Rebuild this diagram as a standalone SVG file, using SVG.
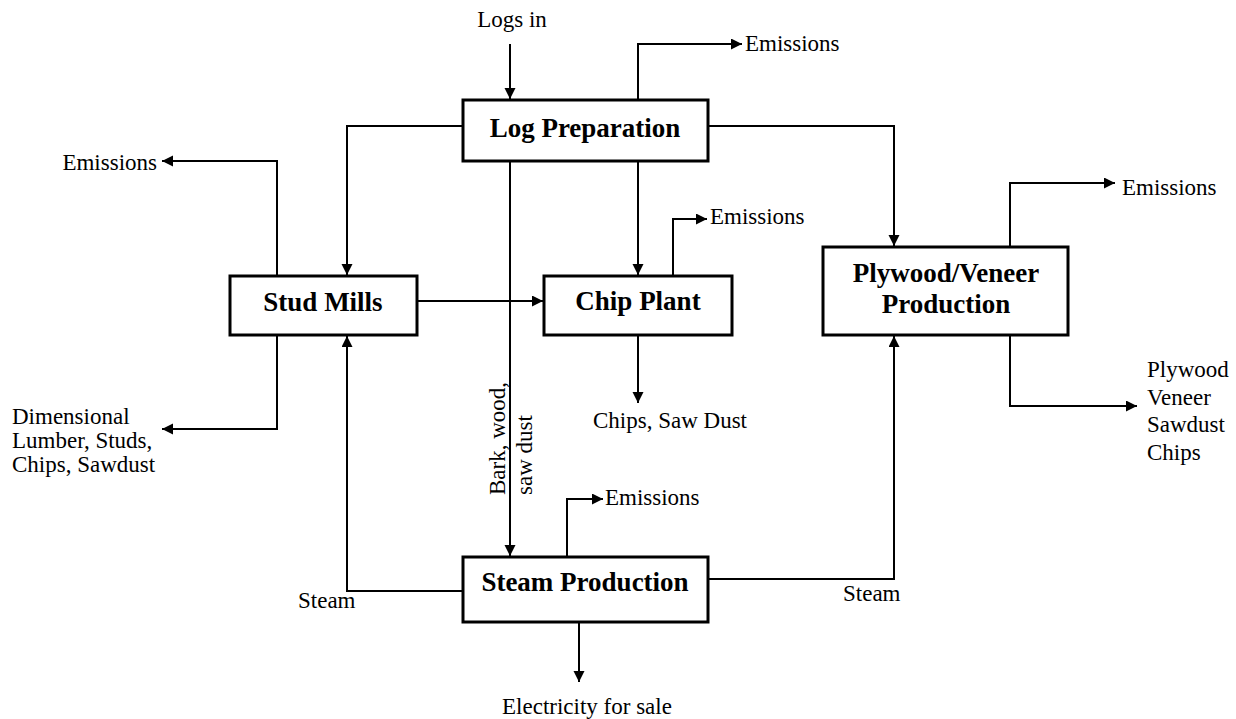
<svg xmlns="http://www.w3.org/2000/svg" width="1236" height="719" viewBox="0 0 1236 719">
<style>
.box{fill:#fff;stroke:#000;stroke-width:3}
.t{font-family:"Liberation Serif","Times New Roman",serif;font-size:23px;fill:#000}
.b{font-family:"Liberation Serif","Times New Roman",serif;font-size:27px;font-weight:bold;fill:#000;text-anchor:middle}
.c{fill:none;stroke:#000;stroke-width:2;marker-end:url(#ah)}
.l{fill:none;stroke:#000;stroke-width:2}
</style>
<defs>
<marker id="ah" markerUnits="userSpaceOnUse" markerWidth="12" markerHeight="12" refX="11" refY="5.5" orient="auto">
<path d="M0,0 L11,5.5 L0,11 z" fill="#000"/>
</marker>
</defs>
<rect width="1236" height="719" fill="#fff"/>
<g id="connectors">
<path class="c" d="M510,44 V99"/>
<path class="c" d="M638,100 V44 H742"/>
<path class="c" d="M463,126 H347 V275"/>
<path class="c" d="M638,161 V275"/>
<path class="c" d="M708,126 H894 V246"/>
<path class="c" d="M510,161 V556"/>
<path class="c" d="M277,276 V161 H162"/>
<path class="c" d="M277,335 V429 H162"/>
<path class="c" d="M417,301 H543"/>
<path class="c" d="M673,276 V219 H707"/>
<path class="c" d="M638,335 V403"/>
<path class="c" d="M1010,247 V183 H1115"/>
<path class="c" d="M1010,335 V406 H1137"/>
<path class="c" d="M463,591 H347 V336"/>
<path class="c" d="M708,579 H894 V336"/>
<path class="c" d="M567,557 V499 H603"/>
<path class="c" d="M579,622 V682"/>
</g>
<g id="log-preparation">
<rect class="box" x="463" y="100" width="245" height="61"/>
<text class="b" x="585" y="137">Log Preparation</text>
</g>
<g id="stud-mills">
<rect class="box" x="230" y="276" width="187" height="59"/>
<text class="b" x="323" y="311">Stud Mills</text>
</g>
<g id="chip-plant">
<rect class="box" x="544" y="276" width="188" height="59"/>
<text class="b" x="638" y="310">Chip Plant</text>
</g>
<g id="plywood-veneer-production">
<rect class="box" x="823" y="247" width="245" height="88"/>
<text class="b" x="946" y="282">Plywood/Veneer</text>
<text class="b" x="946" y="313">Production</text>
</g>
<g id="steam-production">
<rect class="box" x="463" y="557" width="245" height="65"/>
<text class="b" x="585" y="591">Steam Production</text>
</g>
<g id="labels">
<text class="t" x="512" y="27" text-anchor="middle">Logs in</text>
<text class="t" x="745" y="51">Emissions</text>
<text class="t" x="157" y="170" text-anchor="end">Emissions</text>
<text class="t" x="710" y="224">Emissions</text>
<text class="t" x="1122" y="195">Emissions</text>
<text class="t" x="605" y="505">Emissions</text>
<text class="t" x="593" y="428">Chips, Saw Dust</text>
<text class="t" x="12" y="424">Dimensional</text>
<text class="t" x="12" y="448">Lumber, Studs,</text>
<text class="t" x="12" y="472">Chips, Sawdust</text>
<text class="t" x="1147" y="377">Plywood</text>
<text class="t" x="1147" y="405">Veneer</text>
<text class="t" x="1147" y="432">Sawdust</text>
<text class="t" x="1147" y="460">Chips</text>
<text class="t" x="298" y="608">Steam</text>
<text class="t" x="843" y="601">Steam</text>
<text class="t" x="587" y="714" text-anchor="middle">Electricity for sale</text>
<text class="t" transform="translate(505,495) rotate(-90)">Bark, wood,</text>
<text class="t" transform="translate(532,495) rotate(-90)">saw dust</text>
</g>
</svg>
